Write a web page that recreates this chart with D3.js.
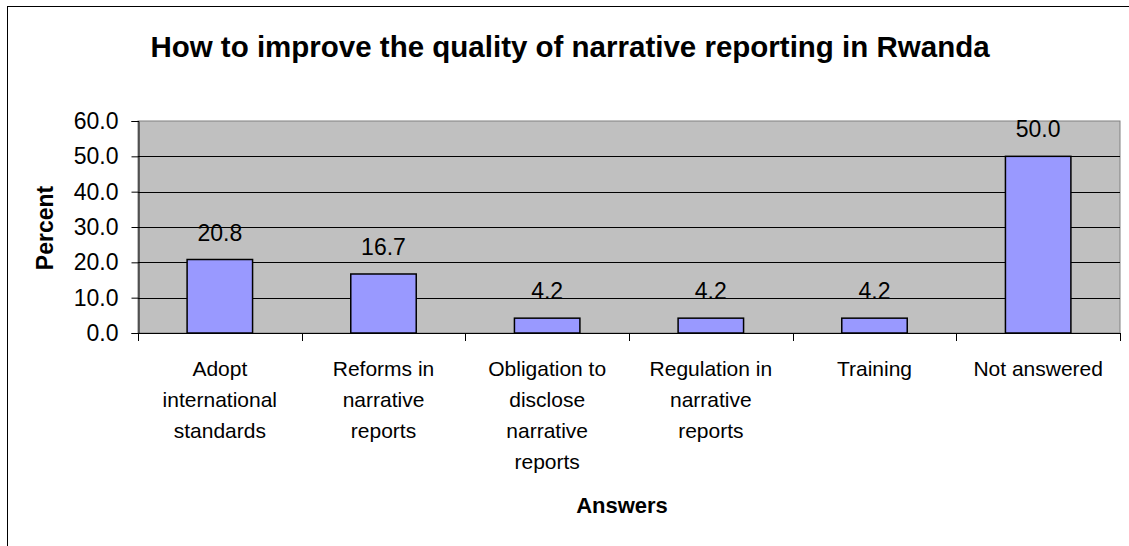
<!DOCTYPE html>
<html>
<head>
<meta charset="utf-8">
<script src="https://cdn.jsdelivr.net/npm/d3@7"></script>
<style>
  html, body { margin: 0; padding: 0; background: #fff; }
  svg { display: block; font-family: "Liberation Sans", Arial, sans-serif; }
</style>
</head>
<body>
<svg id="chart" width="1129" height="546"></svg>
<script>
// Survey answers and their share of respondents (percent)
const categories = [
  ["Adopt", "international", "standards"],
  ["Reforms in", "narrative", "reports"],
  ["Obligation to", "disclose", "narrative", "reports"],
  ["Regulation in", "narrative", "reports"],
  ["Training"],
  ["Not answered"]
];
const values = [20.8, 16.7, 4.2, 4.2, 4.2, 50.0];
const yTicks = [0, 10, 20, 30, 40, 50, 60];

const svg = d3.select("#chart");
const plot = { left: 138, right: 1120, top: 121, bottom: 333 };

// outer chart frame
svg.append("rect")
  .attr("x", 7.5).attr("y", 6.5)
  .attr("width", 1130).attr("height", 545)
  .attr("fill", "#fff").attr("stroke", "#000").attr("stroke-width", 1);

const x = d3.scaleBand()
  .domain(d3.range(categories.length))
  .range([plot.left, plot.right])
  .paddingInner(0.6).paddingOuter(0.3);
const xBand = d3.scaleBand()
  .domain(d3.range(categories.length))
  .range([plot.left, plot.right]);
const y = d3.scaleLinear().domain([0, 60]).range([plot.bottom, plot.top]);

// plot background
svg.append("rect")
  .attr("x", plot.left).attr("y", plot.top)
  .attr("width", plot.right - plot.left).attr("height", plot.bottom - plot.top)
  .attr("fill", "#c0c0c0").attr("stroke", "#808080").attr("stroke-width", 1);

// horizontal gridlines
svg.append("g").selectAll("line")
  .data(yTicks.filter(t => t > 0 && t < 60))
  .join("line")
  .attr("x1", plot.left).attr("x2", plot.right)
  .attr("y1", d => Math.round(y(d)) + 0.5).attr("y2", d => Math.round(y(d)) + 0.5)
  .attr("stroke", "#000").attr("stroke-width", 1);

// y axis
const yAxis = svg.append("g")
  .attr("transform", `translate(${plot.left + 0.5},0)`)
  .call(d3.axisLeft(y).tickValues(yTicks).tickFormat(d3.format(".1f")).tickSize(7).tickPadding(13));
yAxis.select(".domain").attr("stroke", "#000");
yAxis.selectAll(".tick line").attr("stroke", "#000");
yAxis.selectAll(".tick text")
  .attr("font-size", 23).attr("fill", "#000")
  .attr("font-family", "'Liberation Sans', Arial, sans-serif");

// x axis with ticks on category boundaries
const bounds = d3.range(categories.length + 1).map(i => plot.left + i * xBand.bandwidth());
const xAxis = svg.append("g");
xAxis.append("line")
  .attr("x1", plot.left).attr("x2", plot.right)
  .attr("y1", plot.bottom + 0.5).attr("y2", plot.bottom + 0.5)
  .attr("stroke", "#000");
xAxis.selectAll("line.tick")
  .data(bounds)
  .join("line").attr("class", "tick")
  .attr("x1", d => Math.round(d) + 0.5).attr("x2", d => Math.round(d) + 0.5)
  .attr("y1", plot.bottom).attr("y2", plot.bottom + 8)
  .attr("stroke", "#000");

// bars
svg.append("g").selectAll("rect")
  .data(values)
  .join("rect")
  .attr("x", (d, i) => x(i))
  .attr("y", d => y(d))
  .attr("width", x.bandwidth())
  .attr("height", d => y(0) - y(d))
  .attr("fill", "#9999ff")
  .attr("stroke", "#000").attr("stroke-width", 1.5);

// value labels
svg.append("g").selectAll("text")
  .data(values)
  .join("text")
  .attr("x", (d, i) => x(i) + x.bandwidth() / 2)
  .attr("y", d => y(d) - 19)
  .attr("text-anchor", "middle")
  .attr("font-size", 23)
  .text(d => d.toFixed(1));

// category labels, wrapped over several lines
const catG = svg.append("g").selectAll("text")
  .data(categories)
  .join("text")
  .attr("text-anchor", "middle")
  .attr("font-size", 21);
catG.selectAll("tspan")
  .data((d, i) => d.map(line => ({ line, i })))
  .join("tspan")
  .attr("x", d => xBand(d.i) + xBand.bandwidth() / 2)
  .attr("y", (d, j) => 376 + j * 31)
  .text(d => d.line);

// title
svg.append("text")
  .attr("x", 570).attr("y", 57)
  .attr("text-anchor", "middle")
  .attr("font-size", 29.5).attr("font-weight", "bold")
  .text("How to improve the quality of narrative reporting in Rwanda");

// axis titles
svg.append("text")
  .attr("x", 622).attr("y", 513)
  .attr("text-anchor", "middle")
  .attr("font-size", 22).attr("font-weight", "bold")
  .text("Answers");

svg.append("text")
  .attr("transform", "translate(53,228) rotate(-90)")
  .attr("text-anchor", "middle")
  .attr("font-size", 23).attr("font-weight", "bold")
  .text("Percent");
</script>
</body>
</html>
